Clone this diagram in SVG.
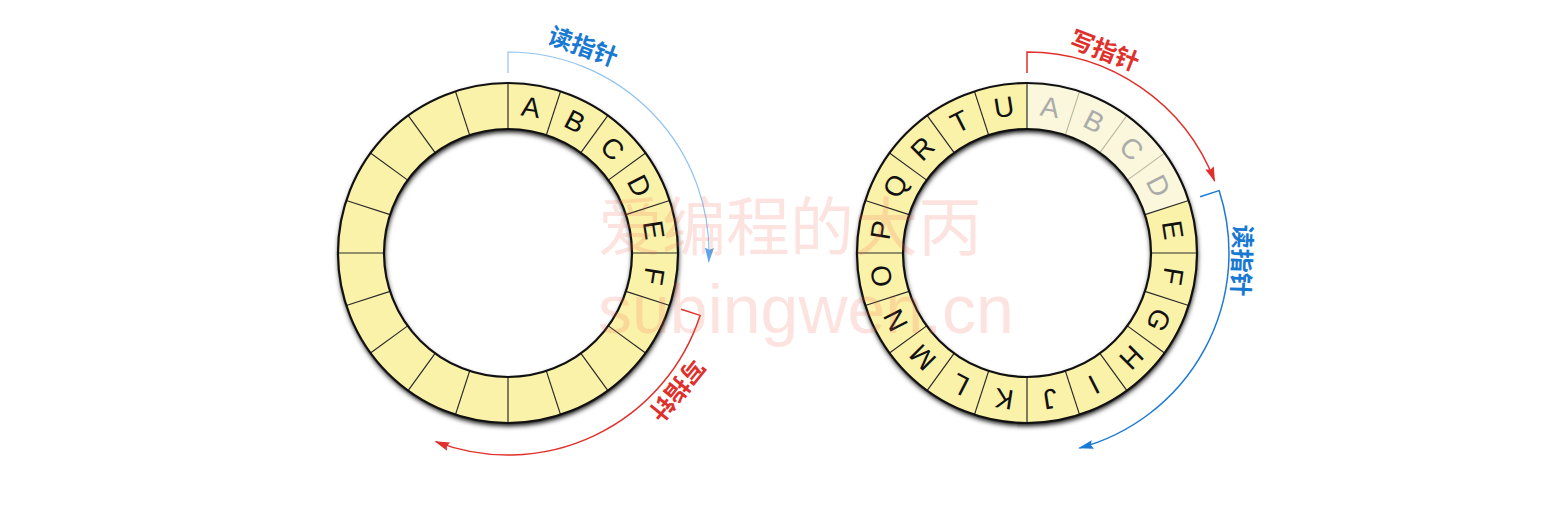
<svg xmlns="http://www.w3.org/2000/svg" width="1548" height="506" viewBox="0 0 1548 506">
<defs>
<style>
.ann{fill:#fbf2aa;fill-rule:evenodd;stroke:none}
.edge{fill:none;stroke:#111;stroke-width:2.2}
.div line{stroke:#2a2a2a;stroke-width:1.2}
.divf line{stroke:#b8b6a0;stroke-width:1.1}
.lt{font-family:"Liberation Sans",Arial,sans-serif;font-size:28px;fill:#111;text-anchor:middle}
.lt.f{fill:#ababab}
.lab{font-family:"Noto Sans CJK SC",sans-serif;font-size:24px;font-weight:bold;text-anchor:middle}
.blue{fill:#1879d3}
.red{fill:#e0302c}
.arc{fill:none}
.wm{font-family:"Liberation Sans","Noto Sans CJK SC",sans-serif;fill:#f06048;opacity:0.17}
</style>
<filter id="shadow" x="-15%" y="-15%" width="130%" height="130%">
<feDropShadow dx="0.5" dy="3" stdDeviation="2.4" flood-color="#000" flood-opacity="1"/>
</filter>
<marker id="ah-red" markerUnits="userSpaceOnUse" markerWidth="15" markerHeight="10" viewBox="0 0 15 10" refX="14" refY="5" orient="auto"><path d="M0,0.5 L15,5 L0,9.5 L2,5 z" fill="#e0302c"/></marker>
<marker id="ah-blue" markerUnits="userSpaceOnUse" markerWidth="15" markerHeight="10" viewBox="0 0 15 10" refX="14" refY="5" orient="auto"><path d="M0,0.5 L15,5 L0,9.5 L2,5 z" fill="#1a7ad6"/></marker>
<marker id="ah-lblue" markerUnits="userSpaceOnUse" markerWidth="15" markerHeight="10" viewBox="0 0 15 10" refX="14" refY="5" orient="auto"><path d="M0,0.5 L15,5 L0,9.5 L2,5 z" fill="#5ea6ec"/></marker>
</defs>
<rect width="1548" height="506" fill="#fff"/>

<g id="ring-left" transform="translate(508,253)">
<path class="ann" filter="url(#shadow)" d="M0,-170 A170,170 0 1 1 0,170 A170,170 0 1 1 0,-170 Z M0,-124 A124,124 0 1 0 0,124 A124,124 0 1 0 0,-124 Z"/>
<g class="div">
<line y1="-124" y2="-170"/>
<line y1="-124" y2="-170" transform="rotate(18)"/>
<line y1="-124" y2="-170" transform="rotate(36)"/>
<line y1="-124" y2="-170" transform="rotate(54)"/>
<line y1="-124" y2="-170" transform="rotate(72)"/>
<line y1="-124" y2="-170" transform="rotate(90)"/>
<line y1="-124" y2="-170" transform="rotate(108)"/>
<line y1="-124" y2="-170" transform="rotate(126)"/>
<line y1="-124" y2="-170" transform="rotate(144)"/>
<line y1="-124" y2="-170" transform="rotate(162)"/>
<line y1="-124" y2="-170" transform="rotate(180)"/>
<line y1="-124" y2="-170" transform="rotate(198)"/>
<line y1="-124" y2="-170" transform="rotate(216)"/>
<line y1="-124" y2="-170" transform="rotate(234)"/>
<line y1="-124" y2="-170" transform="rotate(252)"/>
<line y1="-124" y2="-170" transform="rotate(270)"/>
<line y1="-124" y2="-170" transform="rotate(288)"/>
<line y1="-124" y2="-170" transform="rotate(306)"/>
<line y1="-124" y2="-170" transform="rotate(324)"/>
<line y1="-124" y2="-170" transform="rotate(342)"/>
</g>
<circle class="edge" r="170"/>
<circle class="edge" r="124"/>
<text class="lt" y="-138" transform="rotate(9)">A</text>
<text class="lt" y="-138" transform="rotate(27)">B</text>
<text class="lt" y="-138" transform="rotate(45)">C</text>
<text class="lt" y="-138" transform="rotate(63)">D</text>
<text class="lt" y="-138" transform="rotate(81)">E</text>
<text class="lt" y="-138" transform="rotate(99)">F</text>
</g>

<g id="ring-right" transform="translate(1027,253)">
<path class="ann" filter="url(#shadow)" d="M0,-170 A170,170 0 1 1 0,170 A170,170 0 1 1 0,-170 Z M0,-124 A124,124 0 1 0 0,124 A124,124 0 1 0 0,-124 Z"/>
<path d="M0,-170 A170,170 0 0 1 161.68,-52.53 L117.93,-38.32 A124,124 0 0 0 0,-124 Z" fill="#faf7dc"/>
<g class="divf">
<line y1="-124" y2="-170" transform="rotate(18)"/>
<line y1="-124" y2="-170" transform="rotate(36)"/>
<line y1="-124" y2="-170" transform="rotate(54)"/>
</g>
<g class="div">
<line y1="-124" y2="-170"/>
<line y1="-124" y2="-170" transform="rotate(72)"/>
<line y1="-124" y2="-170" transform="rotate(90)"/>
<line y1="-124" y2="-170" transform="rotate(108)"/>
<line y1="-124" y2="-170" transform="rotate(126)"/>
<line y1="-124" y2="-170" transform="rotate(144)"/>
<line y1="-124" y2="-170" transform="rotate(162)"/>
<line y1="-124" y2="-170" transform="rotate(180)"/>
<line y1="-124" y2="-170" transform="rotate(198)"/>
<line y1="-124" y2="-170" transform="rotate(216)"/>
<line y1="-124" y2="-170" transform="rotate(234)"/>
<line y1="-124" y2="-170" transform="rotate(252)"/>
<line y1="-124" y2="-170" transform="rotate(270)"/>
<line y1="-124" y2="-170" transform="rotate(288)"/>
<line y1="-124" y2="-170" transform="rotate(306)"/>
<line y1="-124" y2="-170" transform="rotate(324)"/>
<line y1="-124" y2="-170" transform="rotate(342)"/>
</g>
<circle class="edge" r="170"/>
<circle class="edge" r="124"/>
<text class="lt f" y="-138" transform="rotate(9)">A</text>
<text class="lt f" y="-138" transform="rotate(27)">B</text>
<text class="lt f" y="-138" transform="rotate(45)">C</text>
<text class="lt f" y="-138" transform="rotate(63)">D</text>
<text class="lt" y="-138" transform="rotate(81)">E</text>
<text class="lt" y="-138" transform="rotate(99)">F</text>
<text class="lt" y="-138" transform="rotate(117)">G</text>
<text class="lt" y="-138" transform="rotate(135)">H</text>
<text class="lt" y="-138" transform="rotate(153)">I</text>
<text class="lt" y="-138" transform="rotate(171)">J</text>
<text class="lt" y="-138" transform="rotate(189)">K</text>
<text class="lt" y="-138" transform="rotate(207)">L</text>
<text class="lt" y="-138" transform="rotate(225)">M</text>
<text class="lt" y="-138" transform="rotate(243)">N</text>
<text class="lt" y="-138" transform="rotate(261)">O</text>
<text class="lt" y="-138" transform="rotate(279)">P</text>
<text class="lt" y="-138" transform="rotate(297)">Q</text>
<text class="lt" y="-138" transform="rotate(315)">R</text>
<text class="lt" y="-138" transform="rotate(333)">T</text>
<text class="lt" y="-138" transform="rotate(351)">U</text>
</g>

<g id="connectors">
<path class="arc" stroke="#92c3f0" stroke-width="1.2" marker-end="url(#ah-lblue)" d="M508,73 L508,52 A201,201 0 0 1 708.8,261.8"/>
<path class="arc" stroke="#e0302c" stroke-width="1.5" marker-end="url(#ah-red)" d="M681.1,309.2 L700.1,315.4 A202,202 0 0 1 435.6,441.6"/>
<path class="arc" stroke="#e0302c" stroke-width="1.5" marker-end="url(#ah-red)" d="M1027,73 L1027,52 A201,201 0 0 1 1214.6,181"/>
<path class="arc" stroke="#1a7ad6" stroke-width="1.5" marker-end="url(#ah-blue)" d="M1200.1,196.8 L1219.1,190.6 A202,202 0 0 1 1079.3,448.1"/>
</g>

<g id="labels">
<text class="lab blue" y="-211" transform="translate(508,253) rotate(20)">读指针</text>
<text class="lab red" y="-209" transform="translate(508,253) rotate(129)">写指针</text>
<text class="lab red" y="-208" transform="translate(1027,253) rotate(21)">写指针</text>
<text class="lab blue" y="-206" transform="translate(1027,253) rotate(92)">读指针</text>
</g>

<g id="watermark">
<text class="wm" x="598" y="250" font-size="64">爱编程的大丙</text>
<text class="wm" x="598" y="333" font-size="68">subingwen.cn</text>
</g>
</svg>
